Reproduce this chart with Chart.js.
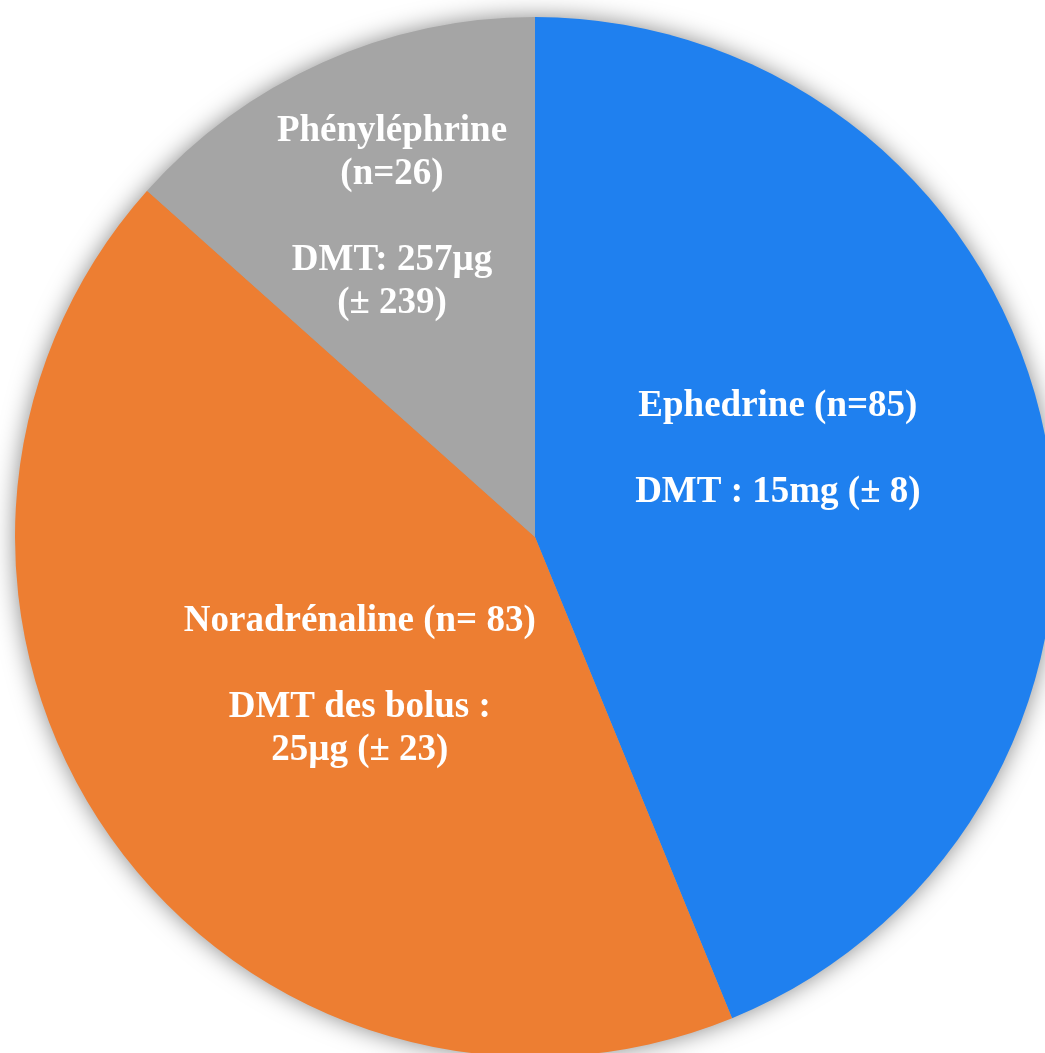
<!DOCTYPE html>
<html>
<head>
<meta charset="utf-8">
<script src="https://cdn.jsdelivr.net/npm/chart.js@4/dist/chart.umd.min.js"></script>
<style>
  html, body { margin: 0; padding: 0; background: #ffffff; overflow: hidden; width: 1045px; height: 1053px; }
  #wrap { position: absolute; left: 0; top: 0; width: 1070px; height: 1070px; }
</style>
</head>
<body>
<div id="wrap"><canvas id="c" width="1070" height="1070"></canvas></div>
<script>
// ---- data ----
const categories = ['Ephedrine', 'Noradrénaline', 'Phényléphrine'];
const counts = [85, 83, 26];
const sliceColors = ['#1F80EF', '#ED7E32', '#A5A5A5'];
const labelLines = [
  ['Ephedrine (n=85)', '', 'DMT : 15mg (± 8)'],
  ['Noradrénaline (n= 83)', '', 'DMT des bolus :', '25µg (± 23)'],
  ['Phényléphrine', '(n=26)', '', 'DMT: 257µg', '(± 239)']
];

// label anchor offsets, in units of the radius, relative to the pie centre
const labelOffsets = [
  { dx: 0.467, dy: -0.168 },
  { dx: -0.337, dy: 0.286 },
  { dx: -0.275, dy: -0.614 }
];

const shadowPlugin = {
  id: 'pieShadow',
  beforeDatasetsDraw(chart) {
    const arc = chart.getDatasetMeta(0).data[0];
    if (!arc) return;
    const ctx = chart.ctx;
    ctx.save();
    ctx.shadowColor = 'rgba(0,0,0,0.5)';
    ctx.shadowBlur = 24;
    ctx.shadowOffsetX = 0;
    ctx.shadowOffsetY = 0;
    ctx.beginPath();
    ctx.arc(arc.x, arc.y, arc.outerRadius - 1, 0, Math.PI * 2);
    ctx.fillStyle = '#a0a0a0';
    ctx.fill();
    ctx.restore();
  }
};

const labelPlugin = {
  id: 'sliceLabels',
  afterDatasetsDraw(chart) {
    const meta = chart.getDatasetMeta(0);
    const ctx = chart.ctx;
    const lineH = 43;
    ctx.save();
    ctx.fillStyle = '#ffffff';
    ctx.font = 'bold 37px "Liberation Serif", "Times New Roman", serif';
    ctx.textAlign = 'center';
    ctx.textBaseline = 'middle';
    meta.data.forEach((arc, i) => {
      const r = arc.outerRadius;
      const cx = arc.x + labelOffsets[i].dx * r;
      const cy = arc.y + labelOffsets[i].dy * r;
      const lines = labelLines[i];
      const top = cy - (lines.length - 1) * lineH / 2;
      lines.forEach((t, k) => {
        if (t) ctx.fillText(t, cx, top + k * lineH);
      });
    });
    ctx.restore();
  }
};

new Chart(document.getElementById('c'), {
  type: 'pie',
  data: {
    labels: categories,
    datasets: [{
      data: counts,
      backgroundColor: sliceColors,
      borderWidth: 0,
      hoverOffset: 0
    }]
  },
  options: {
    responsive: false,
    devicePixelRatio: 1,
    animation: false,
    events: [],
    rotation: 0,
    layout: { padding: { left: 15, top: 17, right: 15, bottom: 13 } },
    plugins: {
      legend: { display: false },
      tooltip: { enabled: false },
      title: { display: false }
    }
  },
  plugins: [shadowPlugin, labelPlugin]
});
</script>
</body>
</html>
